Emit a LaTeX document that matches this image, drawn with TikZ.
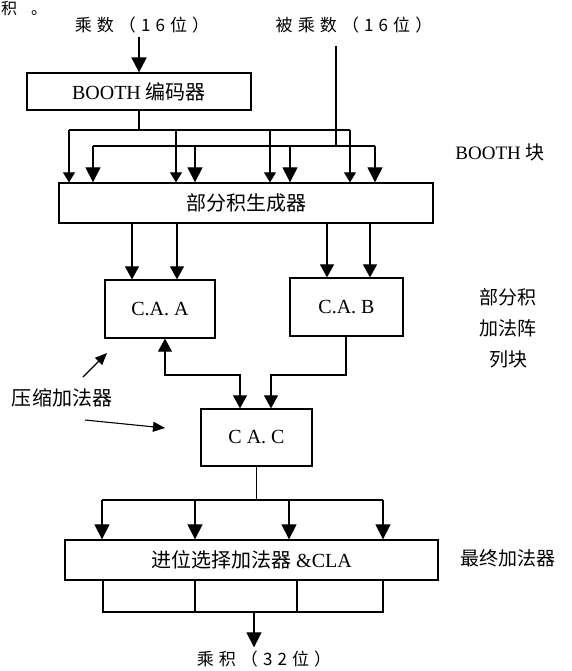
\documentclass[tikz,border=0pt]{standalone}
\usepackage{fontspec}
\setmainfont{Liberation Serif}
\newfontfamily\cjk{Noto Sans CJK SC}
\newfontfamily\cjkwide[LetterSpace=30]{Noto Sans CJK SC}
\usetikzlibrary{arrows.meta}

\begin{document}
\begin{tikzpicture}[x=1pt, y=-1pt,
    box/.style={draw, line width=1.3pt, inner sep=0pt, font=\fontsize{20}{20}\selectfont},
    wire/.style={line width=1.1pt},
    smallarr/.style={wire, -{Triangle[width=12pt, length=10pt]}},
    bigarr/.style={wire, -{Triangle[width=15pt, length=15pt]}},
    caarr/.style={wire, -{Triangle[width=14pt, length=13pt]}},
    lbl/.style={font=\fontsize{19}{31}\selectfont, align=center}]

    % Page and background
    \fill[white] (0,0) rectangle (571,671);
    \useasboundingbox (0,0) rectangle (571,671);

    % Text of the page above the figure
    \node[anchor=base west, inner sep=0pt, font=\fontsize{16}{16}\selectfont\cjk] (frag) at (1,15) {积\hspace{14pt}。};

    % Inputs
    \node[font=\fontsize{17}{17}\selectfont\cjkwide] (mlt) at (142,25) {乘数（16位）};
    \node[font=\fontsize{17}{17}\selectfont\cjkwide] (mcd) at (354,25) {被乘数（16位）};

    % BOOTH block
    \node[box, minimum width=224pt, minimum height=37pt] (enc) at (139,91.5) {BOOTH {\cjk 编码器}};
    \node[box, minimum width=374pt, minimum height=40pt] (ppg) at (246,203) {\cjk 部分积生成器};
    \draw[bigarr, line width=2.2pt] (enc.north |- mlt.south) -- (enc.north);

    % Buses into the generator
    \coordinate (booW) at (69,130);
    \coordinate (booE) at (350,130);
    \coordinate (mcdW) at (93,146);
    \coordinate (mcdE) at (375,146);
    \coordinate (mcdtop) at (336,46);
    \draw[wire] (enc.south) -- (enc.south |- booW);
    \draw[wire] (booW) -- (booE);
    \draw[wire] (mcdW) -- (mcdE);
    \draw[wire, line width=2.2pt] (mcdtop) -- (336,0 |- mcdW);
    \foreach \x in {69,176,270,350}
        \draw[smallarr] (\x,0 |- booW) -- (\x,0 |- ppg.north);
    \foreach \x in {93,195,290,375}
        \draw[bigarr] (\x,0 |- mcdW) -- (\x,0 |- ppg.north);

    % Partial product adder array
    \node[box, minimum width=110pt, minimum height=58pt] (caa) at (160,309) {C.A. A};
    \node[box, minimum width=113pt, minimum height=58pt] (cab) at (346.5,307) {C.A. B};
    \node[box, minimum width=111pt, minimum height=57pt] (cac) at (256.5,437.5) {C A. C};
    \foreach \x in {132,177}
        \draw[caarr] (\x,0 |- ppg.south) -- (\x,0 |- caa.north);
    \foreach \x in {327,370}
        \draw[caarr] (\x,0 |- ppg.south) -- (\x,0 |- cab.north);
    \draw[wire, {Triangle[width=14pt, length=13pt]}-{Triangle[width=14pt, length=13pt]}] (165,0 |- caa.south) |- (240,375) -- (240,0 |- cac.north);
    \draw[caarr] (346,0 |- cab.south) |- (271,375) -- (271,0 |- cac.north);

    % Final adder
    \node[box, minimum width=373pt, minimum height=40pt] (fin) at (251.5,560) {{\cjk 进位选择加法器} \&CLA};
    \coordinate (sumW) at (102,500);
    \coordinate (sumE) at (383,500);
    \draw[wire] (cac.south) -- (cac.south |- sumW);
    \draw[wire] (sumW) -- (sumE);
    \foreach \x in {102,195,289,383}
        \draw[bigarr] (\x,0 |- sumW) -- (\x,0 |- fin.north);
    \draw[line width=1.3pt] (103,0 |- fin.south) rectangle (383,612);
    \foreach \x in {195,297}
        \draw[wire] (\x,0 |- fin.south) -- (\x,612);

    % Output
    \node[font=\fontsize{17}{17}\selectfont\cjkwide] (prod) at (264,659) {乘积（32位）};
    \coordinate (out) at (254,612);
    \draw[bigarr] (out) -- (out |- prod.north);

    % Side labels
    \node[lbl] (blk1) at (500,152) {BOOTH {\cjk 块}};
    \node[lbl, font=\fontsize{19}{31}\selectfont\cjk] (blk2) at (508,328) {部分积\\加法阵\\列块};
    \node[lbl, font=\fontsize{19}{19}\selectfont\cjk] (blk3) at (508,558) {最终加法器};
    \node[lbl, font=\fontsize{20}{20}\selectfont\cjk] (cmp) at (62,398) {压缩加法器};
    \draw[wire, -{Triangle[width=10pt, length=12pt]}] (83,377) -- (107,353);
    \draw[wire, -{Triangle[width=10pt, length=12pt]}] (85,420) -- (165,428);
\end{tikzpicture}
\end{document}
